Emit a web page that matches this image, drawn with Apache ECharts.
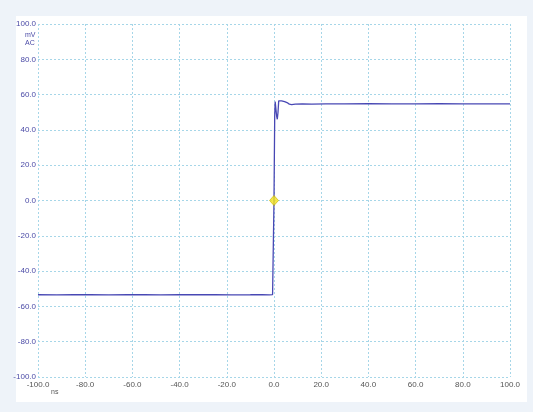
<!DOCTYPE html>
<html>
<head>
<meta charset="utf-8">
<script src="https://cdn.jsdelivr.net/npm/echarts@6/dist/echarts.min.js"></script>
<style>
html,body{margin:0;padding:0;background:#eef3f9;}
#c{width:533px;height:412px;}
</style>
</head>
<body>
<div id="c"></div>
<script>
// time in ns
const timeNs = [-100, -92, -85, -78, -70, -62, -55, -48, -40, -33, -25, -18, -10, -5, -2, -0.6, -0.2, 0, 0.3, 0.5, 0.8, 1.1, 1.4, 1.7, 2.0, 2.5, 3.2, 4.5, 5.5, 6.5, 7.5, 9, 12, 16, 22, 30, 40, 50, 60, 70, 80, 90, 100];
// voltage in mV
const voltageMv = [-53.4, -53.5, -53.3, -53.4, -53.5, -53.3, -53.4, -53.5, -53.3, -53.4, -53.3, -53.5, -53.4, -53.3, -53.5, -53.3, -52.5, 0, 48, 56, 55, 48, 46, 50, 56.5, 57, 56.5, 56, 55.5, 54.6, 54.3, 54.6, 54.8, 54.6, 54.8, 54.7, 54.9, 54.8, 54.8, 54.9, 54.8, 54.8, 54.8];
const markerPoint = [[0, 0]];
const xTicks = {min: -100, max: 100, interval: 20};
const yTicks = {min: -100, max: 100, interval: 20};

const chart = echarts.init(document.getElementById('c'), null, {renderer: 'canvas'});
const gridLine = {show: true, lineStyle: {color: '#a6d6e8', type: [2, 2], width: 1}};
chart.setOption({
  backgroundColor: '#eef3f9',
  animation: false,
  graphic: [
    {type: 'rect', shape: {x: 16, y: 16, width: 511, height: 386}, style: {fill: '#ffffff'}, z: -10},
    {type: 'text', left: 25, top: 31, style: {text: 'mV\nAC', fill: '#4a4aa6', font: '7px "Liberation Sans"', align: 'center', lineHeight: 8}},
    {type: 'text', left: 51, top: 389, style: {text: 'ns', fill: '#555', font: '7px "Liberation Sans"'}}
  ],
  grid: {left: 38, right: 23, top: 24, bottom: 35},
  xAxis: {
    type: 'value', min: xTicks.min, max: xTicks.max, interval: xTicks.interval,
    axisLine: {show: false}, axisTick: {show: false},
    axisLabel: {color: '#555', fontSize: 8, fontFamily: 'Liberation Sans', margin: 4, formatter: v => v.toFixed(1)},
    splitLine: gridLine
  },
  yAxis: {
    type: 'value', min: yTicks.min, max: yTicks.max, interval: yTicks.interval,
    axisLine: {show: false}, axisTick: {show: false},
    axisLabel: {color: '#4a4aa6', fontSize: 8, fontFamily: 'Liberation Sans', margin: 2, formatter: v => v.toFixed(1)},
    splitLine: gridLine
  },
  series: [
    {
      type: 'line', data: timeNs.map((t, i) => [t, voltageMv[i]]),
      showSymbol: false, lineStyle: {color: '#4848b4', width: 1.3}, z: 3
    },
    {
      type: 'scatter', data: markerPoint, symbol: 'diamond', symbolSize: [9, 10],
      itemStyle: {color: '#f2e21c', borderColor: '#c9b400', borderWidth: 0.8}, z: 5
    }
  ]
});
</script>
</body>
</html>
